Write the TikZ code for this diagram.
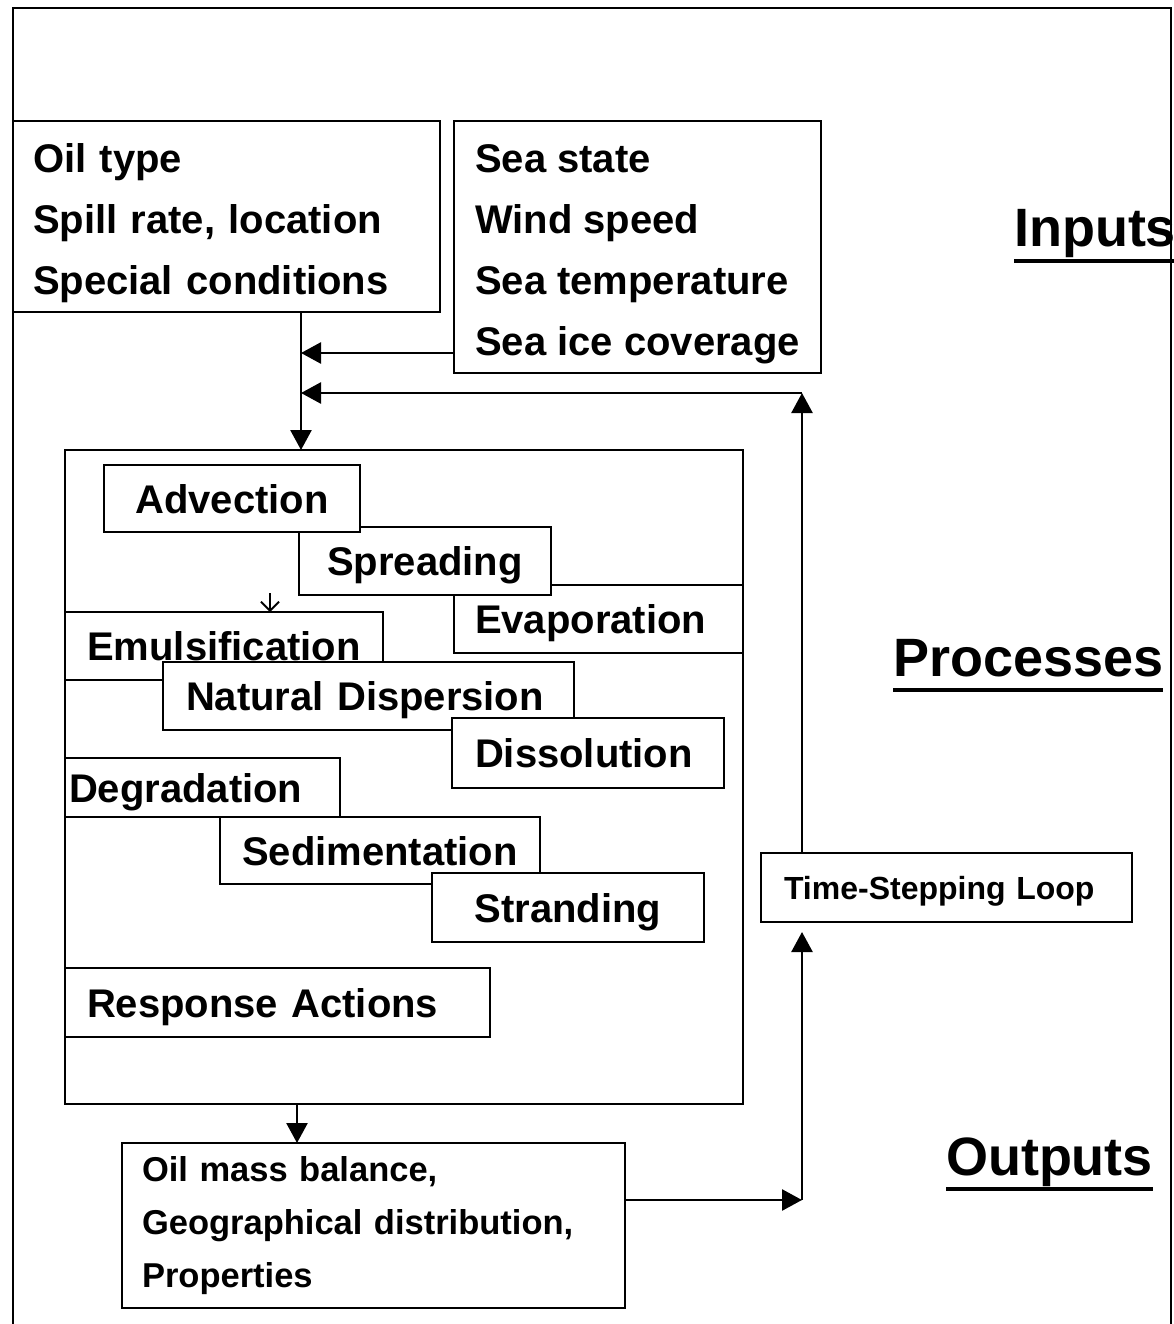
\documentclass[tikz,border=0pt]{standalone}
\usepackage{fontspec}
\setmainfont{Liberation Sans}
\usetikzlibrary{arrows.meta,calc}
\definecolor{SpillInk}{gray}{0.0}
\definecolor{SpillPaper}{gray}{1.0}
\newcommand\spillbody{\fontsize{40}{61}\selectfont\bfseries}
\newcommand\spillout{\fontsize{34.5}{53}\selectfont\bfseries}
\newcommand\spillloop{\fontsize{32}{38}\selectfont\bfseries}
\newcommand\spillhead{\fontsize{54}{60}\selectfont\bfseries}
\tikzset{
    spill/diagram/.style={
        font=\spillbody,
        draw=SpillInk,
        text=SpillInk,
        line width=2.6pt,
        line join=miter,
        every node/.style={inner sep=0pt, outer sep=0pt}
    },
    spill/frame/.style={draw=SpillInk, line width=2.6pt},
    spill/box/.style={
        rectangle, draw=SpillInk, fill=SpillPaper,
        line width=2.6pt, anchor=north west
    },
    spill/single/.style={text height=29pt, text depth=0pt},
    spill/inset/.style={align=left, inner xsep=#1},
    spill/lines/.style={align=left},
    spill/heading/.style={font=\spillhead, anchor=base west},
    spill/underline/.style={draw=SpillInk, line width=3.6pt},
    spill/flow/.style={
        draw=SpillInk, line width=2.6pt,
        -{Triangle[length=20pt, width=21pt]}
    },
    spill/tick/.style={
        draw=SpillInk, line width=1.8pt,
        -{Straight Barb[length=9pt, width=18pt]}
    }
}

\begin{document}
\begin{tikzpicture}[spill/diagram, x=1pt, y=-1pt]
    \useasboundingbox (0,0) rectangle (1174,1324);
    % headings
    \node[spill/heading] (inputs) at (1014,247) {Inputs};
    \node[spill/heading] (processes) at (893,676) {Processes};
    \node[spill/heading] (outputs) at (946,1175) {Outputs};
    \foreach \head in {inputs,processes,outputs}
        \draw[spill/underline] ($(\head.base west)+(0,14)$) -- ($(\head.base east)+(0,14)$);
    \draw[spill/frame] (13,1324) -- (13,8) -- (1171,8) -- (1171,1324);
    % inputs
    \node[spill/box, spill/inset=20pt, minimum width=427pt, minimum height=191pt,
        text width=387pt] (oil) at (13,121)
        {\strut Oil type\\Spill rate, location\\Special conditions};
    \node[spill/box, spill/lines, minimum width=367pt, minimum height=252pt]
        (sea) at (454,121)
        {\strut Sea state\\Wind speed\\Sea temperature\\Sea ice coverage};
    % processes
    \node[spill/box, fill=none, minimum width=678pt, minimum height=654pt]
        (procs) at (65,450) {};
    \node[spill/box, spill/single, spill/inset=21pt, text width=247pt,
        minimum width=289pt, minimum height=68pt] (evap) at (454,585) {Evaporation};
    \node[spill/box, spill/single, minimum width=252pt, minimum height=68pt]
        (spread) at (299,527) {Spreading};
    \node[spill/box, spill/single, minimum width=256pt, minimum height=67pt]
        (advect) at (104,465) {Advection};
    \node[spill/box, spill/single, minimum width=318pt, minimum height=68pt]
        (emul) at (65,612) {Emulsification};
    \node[spill/box, spill/single, spill/inset=23pt, text width=365pt,
        minimum width=411pt, minimum height=68pt] (natdisp) at (163,662) {Natural Dispersion};
    \node[spill/box, spill/single, spill/inset=23pt, text width=226pt,
        minimum width=272pt, minimum height=70pt] (dissol) at (452,718) {Dissolution};
    \node[spill/box, spill/single, spill/inset=4pt, text width=267pt,
        minimum width=275pt, minimum height=59pt] (degrad) at (65,758) {Degradation};
    \node[spill/box, spill/single, minimum width=320pt, minimum height=67pt]
        (sediment) at (220,817) {Sedimentation};
    \node[spill/box, spill/single, minimum width=272pt, minimum height=69pt]
        (strand) at (432,873) {Stranding};
    \node[spill/box, spill/single, spill/inset=22pt, text width=381pt,
        minimum width=425pt, minimum height=69pt] (response) at (65,968) {Response Actions};
    % loop and outputs
    \node[spill/box, font=\spillloop, text height=23pt, text depth=0pt,
        spill/inset=23pt, text width=325pt, minimum width=371pt, minimum height=69pt]
        (loop) at (761,853) {Time-Stepping Loop};
    \node[spill/box, spill/inset=20pt, font=\spillout, minimum width=503pt,
        minimum height=165pt, text width=463pt] (out) at (122,1143)
        {Oil mass balance,\\Geographical distribution,\\Properties};
    % connectors
    \coordinate (trunk) at (301,312);
    \coordinate (seafeed) at (454,353);
    \coordinate (loopret) at (802,393);
    \coordinate (procout) at (297,1104);
    \coordinate (outret) at (625,1200);
    \coordinate (loopfeed) at (802,1200);
    \coordinate (emtick) at (270,593);
    \draw[spill/flow] (trunk) -- (trunk |- procs.north);
    \draw[spill/flow] (seafeed) -- (seafeed -| trunk);
    \draw[spill/flow] (loop.north -| loopret) -- (loopret);
    \draw[spill/flow] (loopret) -- (loopret -| trunk);
    \draw[spill/tick] (emtick) -- (emtick |- emul.north);
    \draw[spill/flow] (procout) -- (procout |- out.north);
    \draw[spill/flow] (outret) -- (loopfeed);
    \draw[spill/flow, shorten >=10pt] (loopfeed) -- (loopfeed |- loop.south);
\end{tikzpicture}
\end{document}
